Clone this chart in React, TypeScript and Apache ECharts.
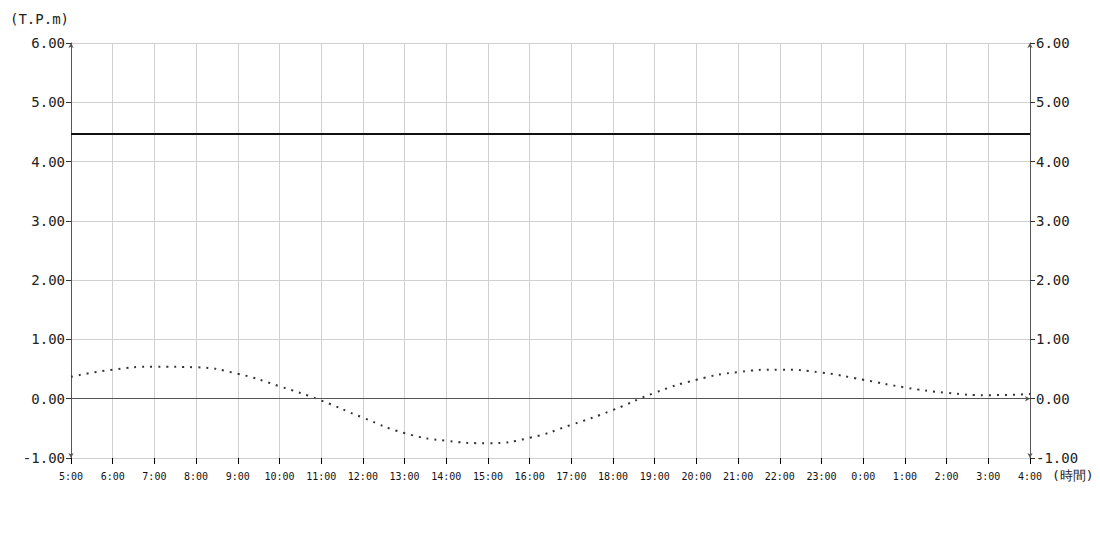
import React, { useEffect, useRef } from "react";
import * as echarts from "echarts";

const hours: string[] = [
  "5:00", "6:00", "7:00", "8:00", "9:00", "10:00", "11:00", "12:00",
  "13:00", "14:00", "15:00", "16:00", "17:00", "18:00", "19:00", "20:00",
  "21:00", "22:00", "23:00", "0:00", "1:00", "2:00", "3:00", "4:00",
];

const tideLevels: number[] = [
  0.37, 0.49, 0.54, 0.53, 0.42, 0.21, -0.03, -0.32,
  -0.58, -0.71, -0.75, -0.66, -0.44, -0.19, 0.1, 0.32,
  0.45, 0.49, 0.44, 0.32, 0.19, 0.1, 0.06, 0.08,
];

const referenceLevel = 4.47;
const yMin = -1;
const yMax = 6;
const yInterval = 1;

const FONT = "'DejaVu Sans Mono', monospace";

export default function App() {
  const ref = useRef<HTMLDivElement>(null);

  useEffect(() => {
    if (!ref.current) return;
    const chart = echarts.init(ref.current, undefined, { renderer: "svg" });

    const yAxisCommon = (position: "left" | "right") => ({
      type: "value" as const,
      position,
      min: yMin,
      max: yMax,
      interval: yInterval,
      axisLine: {
        show: true,
        lineStyle: { color: "#555", width: 1 },
        symbol: ["arrow", "arrow"],
        symbolSize: [4, 5],
      },
      axisTick: { show: true, length: 5, lineStyle: { color: "#333" } },
      axisLabel: {
        formatter: (v: number) => v.toFixed(2),
        fontFamily: FONT,
        fontSize: 14,
        color: "#222",
        margin: 6,
      },
      splitLine: position === "left"
        ? { show: true, lineStyle: { color: "#d0d0d0", width: 1 } }
        : { show: false },
    });

    chart.setOption({
      animation: false,
      grid: { left: 71, right: 70, top: 43, bottom: 92, containLabel: false },
      xAxis: {
        type: "category",
        data: hours,
        boundaryGap: false,
        axisLine: { show: false, onZero: false },
        axisTick: {
          show: true,
          alignWithLabel: true,
          length: 6,
          lineStyle: { color: "#000", width: 1 },
        },
        axisLabel: {
          fontFamily: FONT,
          fontSize: 10,
          color: "#111",
          margin: 13,
          interval: 0,
        },
        splitLine: { show: true, lineStyle: { color: "#d0d0d0", width: 1 } },
      },
      yAxis: [yAxisCommon("left"), yAxisCommon("right")],
      graphic: [
        {
          type: "text",
          left: 10,
          top: 12,
          style: { text: "(T.P.m)", font: `14px ${FONT}`, fill: "#222" },
        },
        {
          type: "text",
          left: 1052,
          top: 469,
          style: { text: "(時間)", font: `13px ${FONT}`, fill: "#222" },
        },
      ],
      series: [
        {
          type: "line",
          data: [],
          symbol: "none",
          markLine: {
            silent: true,
            animation: false,
            symbol: ["none", "arrow"],
            symbolSize: [4, 5],
            label: { show: false },
            lineStyle: { color: "#555", width: 1, type: "solid" },
            data: [{ yAxis: 0 }],
          },
        },
        {
          type: "line",
          data: [],
          symbol: "none",
          markLine: {
            silent: true,
            animation: false,
            symbol: ["none", "none"],
            label: { show: false },
            lineStyle: { color: "#111", width: 2, type: "solid" },
            data: [{ yAxis: referenceLevel }],
          },
        },
        {
          type: "line",
          data: tideLevels,
          smooth: true,
          symbol: "none",
          lineStyle: { color: "#333", width: 2, type: [2, 6] },
        },
      ],
    });

    return () => chart.dispose();
  }, []);

  return (
    <div
      ref={ref}
      style={{ width: 1100, height: 550, position: "absolute", left: 0, top: 0 }}
    />
  );
}
